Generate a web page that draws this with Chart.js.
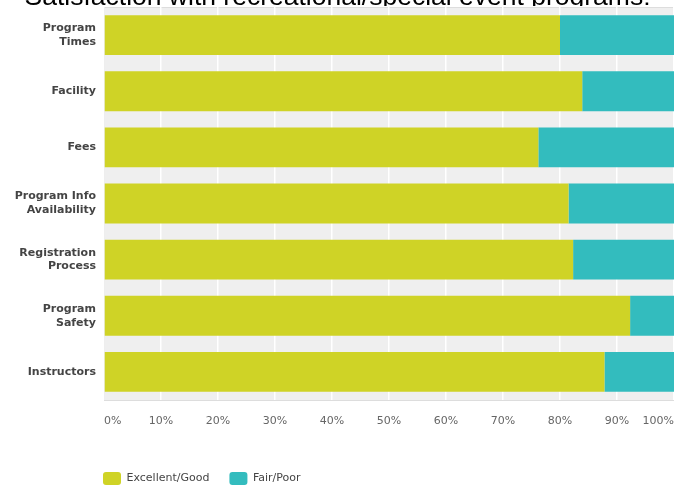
<!DOCTYPE html>
<html>

<head>
    <meta charset="UTF-8" />
    <title>Satisfaction with recreational/special event programs</title>
    <style>
        body {
            margin: 0;
            background: #ffffff;
        }
        #wrap {
            position: relative;
            width: 681px;
            height: 486px;
        }
        #chartId {
            position: absolute;
            left: 0;
            top: 0;
        }
        /* the title is cut off at the top in the original picture */
        #title {
            position: absolute;
            left: 0;
            top: 0;
            width: 675px;
            height: 6px;
            overflow: hidden;
            z-index: 2;
        }
        #title div {
            margin-top: -17px;
            font: 26.5px "Liberation Sans", Arial, sans-serif;
            line-height: 26px;
            text-align: center;
            color: #000;
            white-space: nowrap;
        }
    </style>
</head>

<body>
    <div id="wrap">
        <div id="title"><div>Satisfaction with recreational/special event programs:</div></div>
        <canvas id="chartId" width="681" height="486"></canvas>
    </div>
    <script src="https://cdn.jsdelivr.net/npm/chart.js@4/dist/chart.umd.min.js"></script>
    <script>
        const categories = [
            ['Program', 'Times'],
            'Facility',
            'Fees',
            ['Program Info', 'Availability'],
            ['Registration', 'Process'],
            ['Program', 'Safety'],
            'Instructors'
        ];
        const excellentGood = [80.0, 83.9, 76.2, 81.5, 82.3, 92.3, 87.8];
        const fairPoor = [20.0, 16.1, 23.8, 18.5, 17.7, 7.7, 12.2];
        const seriesNames = ['Excellent/Good', 'Fair/Poor'];

        // grey plot background behind the bars
        const plotBg = {
            id: 'plotBg',
            beforeDraw(chart) {
                const a = chart.chartArea;
                const c = chart.ctx;
                c.save();
                c.fillStyle = '#efefef';
                c.fillRect(a.left, a.top, a.right - a.left, a.bottom - a.top);
                c.strokeStyle = '#dddddd';
                c.lineWidth = 1;
                c.strokeRect(a.left + 0.5, a.top + 0.5, a.right - a.left - 1, a.bottom - a.top);
                c.restore();
            }
        };

        // legend sits under the plot, lined up with its left edge
        const legendPlace = {
            id: 'legendPlace',
            afterLayout(chart) {
                const lg = chart.legend;
                const pad = lg.options.labels.padding;
                const w = lg.right - lg.left;
                lg.left = chart.chartArea.left - 1 - pad;
                lg.right = lg.left + w;
                lg.top = 452;
                lg.bottom = 486;
            }
        };

        const chrt = document.getElementById('chartId').getContext('2d');
        new Chart(chrt, {
            type: 'bar',
            data: {
                labels: categories,
                datasets: [{
                    label: seriesNames[0],
                    data: excellentGood,
                    backgroundColor: '#cfd326',
                    borderWidth: 0
                }, {
                    label: seriesNames[1],
                    data: fairPoor,
                    backgroundColor: '#33bcbe',
                    borderWidth: 0
                }]
            },
            options: {
                responsive: false,
                animation: false,
                indexAxis: 'y',
                layout: {
                    padding: { top: 7, right: 7, left: 0, bottom: 0 }
                },
                datasets: {
                    bar: { barPercentage: 0.71, categoryPercentage: 1 }
                },
                scales: {
                    x: {
                        stacked: true,
                        min: 0,
                        max: 100,
                        border: { display: false },
                        grid: { color: '#ffffff', lineWidth: 1.5, drawTicks: false },
                        ticks: {
                            stepSize: 10,
                            align: 'inner',
                            padding: 15,
                            color: '#666',
                            font: { family: 'DejaVu Sans', size: 11 },
                            callback: v => v + '%'
                        },
                        afterFit(scale) {
                            scale.height = 43;
                            scale.paddingLeft = 0;
                            scale.paddingRight = 0;
                        }
                    },
                    y: {
                        stacked: true,
                        border: { display: false },
                        grid: { display: false, drawTicks: false },
                        ticks: {
                            padding: 8,
                            color: '#444',
                            font: { family: 'DejaVu Sans', size: 11, weight: 'bold', lineHeight: 1.27 }
                        },
                        afterFit(scale) {
                            scale.width = 104;
                            scale.paddingTop = 0;
                            scale.paddingBottom = 0;
                        }
                    }
                },
                plugins: {
                    legend: {
                        position: 'bottom',
                        align: 'start',
                        labels: {
                            boxWidth: 18,
                            boxHeight: 13,
                            useBorderRadius: true,
                            borderRadius: 3,
                            padding: 20,
                            color: '#444',
                            font: { family: 'DejaVu Sans', size: 11 }
                        }
                    },
                    tooltip: { enabled: false }
                }
            },
            plugins: [plotBg, legendPlace]
        });
    </script>
</body>

</html>
